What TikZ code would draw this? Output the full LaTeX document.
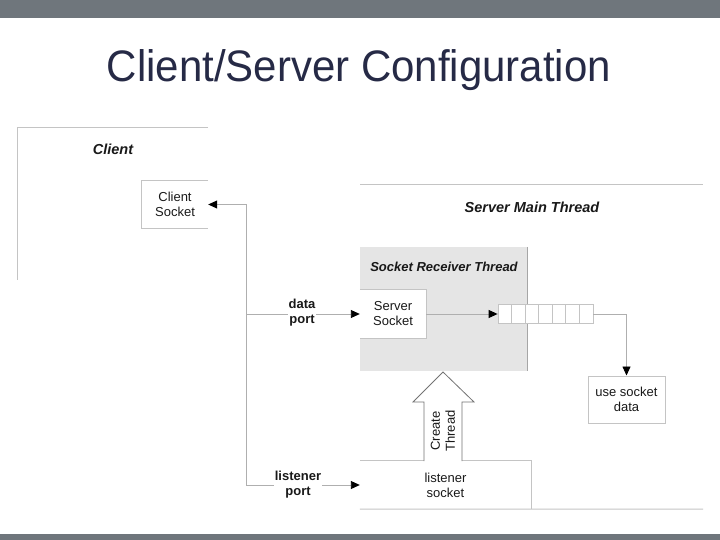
\documentclass[tikz,border=0pt]{standalone}
\usepackage{fontspec}
\setmainfont{Liberation Sans}
\usepackage{xcolor}
\usepackage{tikz}
\usetikzlibrary{arrows.meta, positioning}
\tikzset{>={Triangle[length=9pt,width=8pt,color=black]}}

\definecolor{barcol}{RGB}{111,118,124}
\definecolor{titlecol}{RGB}{38,42,70}
\definecolor{framecol}{RGB}{196,196,196}
\definecolor{linecol}{RGB}{175,175,175}
\definecolor{recvcol}{RGB}{229,229,229}

\tikzset{
    frame/.style={draw=framecol, line width=1pt},
    conn/.style={draw=linecol, line width=0.9pt, ->},
    txt/.style={font=\fontsize{13}{15}\selectfont, align=center, text=black!90},
    heading/.style={font=\fontsize{14.5}{16}\selectfont\bfseries\itshape, text=black!90},
    portlbl/.style={font=\fontsize{13}{15}\selectfont\bfseries, align=center, fill=white, inner sep=1pt, text=black!90},
    cell/.style={draw=framecol, fill=white, minimum width=13.57pt, minimum height=19pt, inner sep=0pt, line width=0.8pt},
}

\begin{document}
\begin{tikzpicture}[x=1pt, y=-1pt]
\useasboundingbox (0,0) rectangle (720,540);

% Slide bars
    \fill[barcol] (0,0) rectangle (720,18);
    \fill[barcol] (0,534) rectangle (720,540);

    \node[font=\fontsize{42}{48}\selectfont, text=titlecol, yscale=1.05] (title) at (359,70) {Client/Server Configuration};

% Client side
    \draw[frame] (208,128) -- (17,128) -- (17,280);
    \node[heading] (client) at (113,149) {Client};
    \node[txt, minimum width=66pt, minimum height=47pt, inner sep=0pt] (csock) at (175,204.5) {Client\\Socket};
    \draw[frame] (csock.north east) -- (csock.north west) -- (csock.south west) -- (csock.south east);

% Server main thread
    \draw[frame] (360,185) -- (703,185);
    \node[heading] (main) at (532,207) {Server Main Thread};

% Socket receiver thread
    \node[fill=recvcol, minimum width=167pt, minimum height=124pt, inner sep=0pt] (recv) at (443.5,309) {};
    \draw[draw=black!35, line width=1pt] (recv.north east) -- (recv.south east);
    \node[heading, font=\fontsize{13}{15}\selectfont\bfseries\itshape] (recvlbl) at (444,267) {Socket Receiver Thread};

    \node[txt, fill=white, minimum width=66pt, minimum height=48pt, inner sep=0pt] (ssock) at (393,314) {Server\\Socket};
    \draw[frame] (ssock.north west) -- (ssock.north east) -- (ssock.south east) -- (ssock.south west);

    \foreach \i in {1,...,7}{
        \node[cell] (q\i) at ({498+13.57*(\i-0.5)},314) {};
    }

    \node[txt, draw=framecol, line width=1pt, minimum width=77pt, minimum height=47pt, inner sep=0pt] (use) at (626.5,399.5) {use socket\\data};

    \draw[conn] (ssock.east) -- (q1.west);
    \draw[conn] (q7.east) -| (use.north);

% Listener socket
    \node[txt, minimum width=171pt, minimum height=48pt, inner sep=0pt] (lsock) at (445.5,485) {listener\\socket};
    \coordinate (floor) at (703,509);
    \draw[frame] (lsock.north west) -- (lsock.north east) -- (lsock.south east);
    \draw[frame] (lsock.south west) -- (floor);

    \draw[draw=black!55, fill=white, line width=0.8pt] (424,461) -- (424,402) -- (413,402) -- (443,372) -- (474,402) -- (462,402) -- (462,461);
    \node[txt, rotate=90] (create) at (443,431) {Create\\Thread};

% Ports
    \coordinate (spinetop) at (246,204.5);
    \coordinate (spinedata) at (246,314);
    \coordinate (spinebot) at (246,485);
    \draw[linecol, line width=0.9pt] (spinetop) -- (spinebot);
    \draw[conn] (spinetop) -- (csock.east);
    \draw[conn] (spinedata) -- (ssock.west);
    \draw[conn] (spinebot) -- (lsock.west);

    \node[portlbl] (dport) at (302,313) {data\\port};
    \node[portlbl] (lport) at (298,485) {listener\\port};

\end{tikzpicture}
\end{document}
